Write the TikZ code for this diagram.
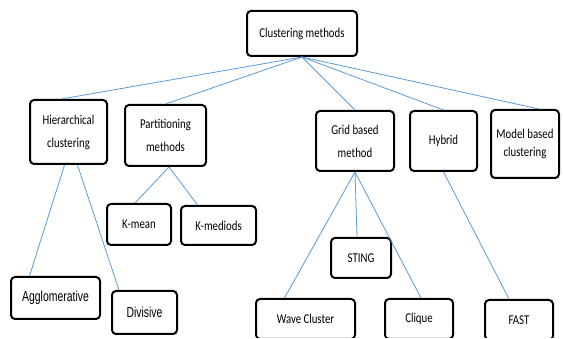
\documentclass[tikz,border=0pt]{standalone}
\usepackage{fontspec}
\setmainfont{Carlito}[FakeStretch=0.8]
\newfontfamily\arialfont{Liberation Sans}[FakeStretch=0.72]
\usetikzlibrary{calc}
\definecolor{linkblue}{RGB}{91,155,213}
\tikzset{
  box/.style={draw=black, line width=2pt, rounded corners=4pt, fill=white,
    align=center, inner sep=0pt, font=\fontsize{13.5}{23}\selectfont},
  sansbox/.style={box, font=\arialfont\fontsize{14.5}{16}\selectfont},
  link/.style={draw=linkblue, line width=0.8pt}
}
\begin{document}
\begin{tikzpicture}[x=1pt,y=-1pt]
\useasboundingbox (0,0) rectangle (563,339);
\fill[white] (0,0) rectangle (563,339);
\clip (0,0) rectangle (563,337.5);
% nodes
\node[box, minimum width=110pt, minimum height=45pt] (root) at (302,33.5) {Clustering methods};
\node[box, minimum width=77pt, minimum height=64pt] (hier) at (68.5,132) {Hierarchical\\clustering};
\node[box, minimum width=81pt, minimum height=61pt] (part) at (165.5,135.5) {Partitioning\\methods};
\node[box, minimum width=78pt, minimum height=60pt] (grid) at (355,141) {Grid based\\method};
\node[box, minimum width=67pt, minimum height=60pt] (hybrid) at (443.5,141) {Hybrid};
\node[box, minimum width=68pt, minimum height=68pt, font=\fontsize{13.5}{18}\selectfont] (model) at (525,144) {Model based\\clustering};
\node[box, minimum width=64pt, minimum height=41pt] (kmean) at (139,224.5) {K-mean};
\node[box, minimum width=75pt, minimum height=39pt] (kmed) at (218.5,225.5) {K-mediods};
\node[sansbox, minimum width=89pt, minimum height=42pt] (agg) at (55.5,298) {Agglomerative};
\node[sansbox, minimum width=65pt, minimum height=43pt] (div) at (144.5,312.5) {Divisive};
\node[box, minimum width=60pt, minimum height=40pt] (sting) at (361,258) {STING};
\node[box, minimum width=99pt, minimum height=40pt] (wave) at (305.5,319) {Wave Cluster};
\node[box, minimum width=68pt, minimum height=40pt] (clique) at (419,319) {Clique};
\node[box, minimum width=68pt, minimum height=40pt] (fast) at (519,320) {FAST};
% connectors
\draw[link] (root.south) -- ($(hier.north)+(-7,0)$);
\draw[link] (root.south) -- (part.north);
\draw[link] (root.south) -- (grid.north);
\draw[link] (root.south) -- (hybrid.north);
\draw[link] (root.south) -- ($(model.north)+(14,0)$);
\draw[link] ($(hier.south)+(-4,0)$) -- ($(agg.north west)+(19.5,0)$);
\draw[link] ($(hier.south)+(9,0)$) -- ($(div.north west)+(8,0)$);
\draw[link] ($(part.south)+(3.5,0)$) -- ($(kmean.north)+(-4,0)$);
\draw[link] ($(part.south)+(3.5,0)$) -- ($(kmed.north)+(-21,0)$);
\draw[link] (grid.south) -- ($(wave.north)+(-21,0)$);
\draw[link] (grid.south) -- ($(sting.north)+(-4,0)$);
\draw[link] (grid.south) -- ($(clique.north)+(2,0)$);
\draw[link] (hybrid.south) -- ($(fast.north)+(-10,0)$);
\end{tikzpicture}
\end{document}
